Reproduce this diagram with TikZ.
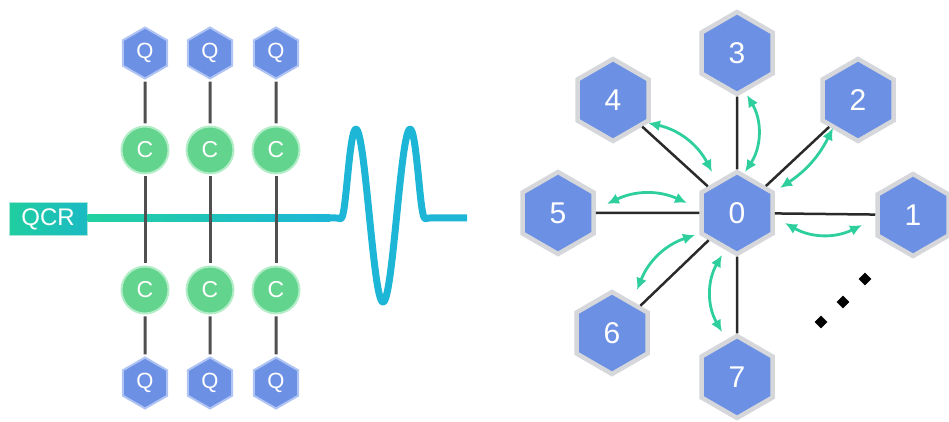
\documentclass[tikz,border=0pt]{standalone}
\usepackage{fontspec}
\setmainfont{Liberation Sans}
\usetikzlibrary{shapes.geometric,arrows.meta}

\definecolor{hexblue}{HTML}{6C90E4}
\definecolor{qglow}{HTML}{AFC4F3}
\definecolor{hexedge}{HTML}{D5D7DB}
\definecolor{cgreen}{HTML}{62D48D}
\definecolor{cglow}{HTML}{B3EDC8}
\definecolor{linkgray}{HTML}{505050}
\definecolor{spokeblack}{HTML}{2A2A2A}
\definecolor{arrowgreen}{HTML}{2ECF9D}
\definecolor{qcrleft}{HTML}{1FCE9F}
\definecolor{qcrright}{HTML}{1BBAC4}
\definecolor{qcredge}{HTML}{A6E9DA}
\definecolor{busgreen}{HTML}{22D1A0}
\definecolor{wavecyan}{HTML}{1DB6D6}

\begin{document}
\begin{tikzpicture}[x=1pt,y=1pt,
  qhex/.style={regular polygon, regular polygon sides=6, shape border rotate=30,
    minimum size=51pt, inner sep=0pt, fill=hexblue, draw=qglow, line width=2pt,
    text=white, font=\fontsize{22}{22}\selectfont},
  cnode/.style={circle, minimum size=47pt, inner sep=0pt, fill=cgreen, draw=cglow,
    line width=2pt, text=white, font=\fontsize{23}{23}\selectfont},
  bighex/.style={regular polygon, regular polygon sides=6, shape border rotate=30,
    minimum size=82pt, inner sep=0pt, fill=hexblue, draw=hexedge, line width=4.5pt,
    text=white, font=\fontsize{30}{30}\selectfont},
  qcrbox/.style={rectangle, minimum width=78pt, minimum height=33pt, inner sep=0pt,
    left color=qcrleft, right color=qcrright, draw=qcredge, line width=1pt,
    text=white, font=\fontsize{24}{24}\selectfont},
  link/.style={draw=linkgray, line width=3pt, shorten <=2pt, shorten >=2pt},
  spoke/.style={draw=spokeblack, line width=2.5pt},
  exchange/.style={draw=arrowgreen, line width=2.8pt,
    {Latex[length=12pt,width=11pt]}-{Latex[length=12pt,width=11pt]}},
  wave/.style={draw=wavecyan, line width=7pt, line join=round},
  dot/.style={diamond, fill=black, inner sep=0pt, minimum size=13pt},
]
\useasboundingbox (0,0) rectangle (949,422);

% ---------- coupler array with readout resonator ----------
\foreach \i/\x in {1/145, 2/210, 3/276} {
  \node[qhex] (qt\i) at (\x,369) {Q};
  \node[cnode] (ct\i) at (\x,272) {C};
  \node[cnode] (cb\i) at (\x,132) {C};
  \node[qhex] (qb\i) at (\x,39) {Q};
}

\node[qcrbox] (qcr) at (48,203) {QCR};

% readout line fading from green to cyan, then the pulse
\coordinate (w0) at (330,204);
\coordinate (w1) at (467,204);
\path[left color=busgreen, right color=wavecyan]
  ([yshift=-3.5pt]qcr.east |- w0) rectangle ([yshift=3.5pt]w0);
\draw[wave] (w0) -- plot[domain=-53:53, samples=220]
  ({383+\x},{204-exp(-(\x*\x/1521)*(\x*\x/1521)*(\x*\x/1521)*(\x*\x/1521)*(\x*\x/1521)*(\x*\x/1521))*(87*cos(6.5454*\x)-3)})
  -- (w1);

\foreach \i in {1,2,3} {
  \draw[link] (qt\i) -- (ct\i);
  \draw[link] (ct\i) -- (cb\i);
  \draw[link] (cb\i) -- (qb\i);
}

% ---------- star of qubits around qubit 0 ----------
\node[bighex] (n0) at (737,209) {0};
\node[bighex] (n1) at (913,207) {1};
\node[bighex] (n2) at (858,322) {2};
\node[bighex] (n3) at (737,369) {3};
\node[bighex] (n4) at (613,322) {4};
\node[bighex] (n5) at (558,209) {5};
\node[bighex] (n6) at (612,89) {6};
\node[bighex] (n7) at (737,45) {7};

\foreach \k in {1,...,7} {
  \draw[spoke] (n0) -- (n\k);
}

% swap arrows beside each spoke
\coordinate (a1s) at (862,197); \coordinate (a1e) at (785,199);
\coordinate (a2s) at (833,294); \coordinate (a2e) at (780,234);
\coordinate (a3s) at (747,327); \coordinate (a3e) at (745,250);
\coordinate (a4s) at (648,299); \coordinate (a4e) at (712,250);
\coordinate (a5s) at (607,218); \coordinate (a5e) at (687,219);
\coordinate (a6s) at (637,132); \coordinate (a6e) at (695,187);
\coordinate (a7s) at (722,90);  \coordinate (a7e) at (722,167);

\draw[exchange] (a1s) to[bend left=28] (a1e);
\draw[exchange] (a2s) to[bend left=15] (a2e);
\draw[exchange] (a3s) to[bend left=32] (a3e);
\draw[exchange] (a4s) to[bend left=25] (a4e);
\draw[exchange] (a5s) to[bend left=25] (a5e);
\draw[exchange] (a6s) to[bend left=25] (a6e);
\draw[exchange] (a7s) to[bend left=30] (a7e);

% continuation dots
\node[dot] (d1) at (821,100) {};
\node[dot] (d2) at (843,120) {};
\node[dot] (d3) at (865,143) {};
\end{tikzpicture}
\end{document}
